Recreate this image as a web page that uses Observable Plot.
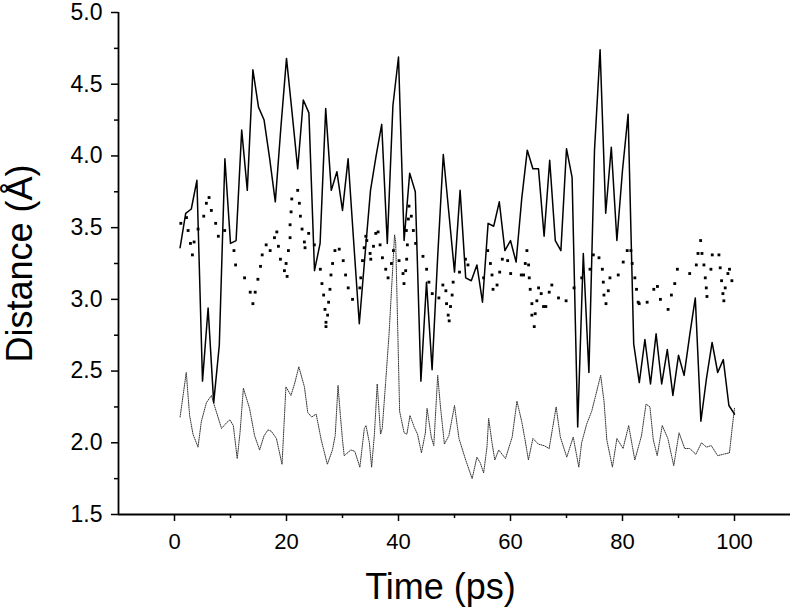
<!DOCTYPE html>
<html>
<head>
<meta charset="utf-8">
<script src="https://cdn.jsdelivr.net/npm/d3@7"></script>
<script src="https://cdn.jsdelivr.net/npm/@observablehq/plot@0.6"></script>
<style>
  html, body { margin: 0; padding: 0; background: #fff; }
</style>
</head>
<body>
<div id="chart"></div>
<script>
// ---- Data ----
const solidTime = d3.range(1, 101);
const solidDist = [
  3.36, 3.60, 3.63, 3.83, 2.43, 2.94, 2.28, 2.68, 3.98, 3.39,
  3.41, 4.18, 3.76, 4.60, 4.34, 4.25, 3.98, 3.68, 4.20, 4.68,
  4.30, 3.91, 4.39, 4.30, 3.20, 3.39, 4.33, 3.76, 3.89, 3.62,
  3.98, 3.40, 2.83, 3.30, 3.76, 4.00, 4.22, 3.39, 4.35, 4.69,
  3.41, 3.88, 3.75, 2.43, 3.12, 2.51, 3.30, 4.01, 3.60, 3.19,
  3.76, 3.15, 3.13, 3.24, 2.98, 3.53, 3.51, 3.68, 3.34, 3.41,
  3.26, 3.70, 4.04, 3.91, 3.91, 3.44, 3.97, 3.41, 3.34, 4.05,
  3.85, 2.11, 3.32, 2.49, 4.04, 4.74, 3.60, 4.06, 3.41, 3.90,
  4.29, 2.69, 2.42, 2.72, 2.41, 2.76, 2.41, 2.65, 2.33, 2.61,
  2.47, 2.75, 3.01, 2.15, 2.45, 2.70, 2.49, 2.58, 2.26, 2.20
];

const dotTime = [
  1.13, 2.14, 2.43, 2.85, 3.50, 3.20, 4.21, 5.22, 5.69, 6.17, 6.58, 7.35, 7.83, 8.96,
  10.62, 10.91, 12.51, 13.52, 14.0, 14.41, 14.89, 15.36, 15.66, 16.37, 17.08, 17.85,
  18.27, 18.56, 18.92, 19.63, 19.93, 20.11, 20.34, 20.64, 20.64, 20.82, 20.94, 22.0,
  22.3, 22.48, 22.78, 23.19, 23.31, 23.96, 24.97, 26.04, 26.33, 26.63, 26.87, 27.05,
  27.05, 27.34, 27.52, 27.76, 27.94, 28.23, 28.65, 29.42, 30.13, 30.55, 31.02, 31.79,
  33.1, 33.27, 33.57, 33.87, 34.16, 34.34, 34.93, 35.05, 35.53, 35.94, 36.36, 36.71,
  37.13, 37.72, 38.14, 38.73, 39.09, 40.1, 40.81, 40.98, 41.28, 41.46, 41.58, 41.4,
  41.76, 41.87, 42.29, 42.65, 43.06, 44.37, 45.02, 45.43, 46.03, 47.21, 47.92, 48.46,
  48.58, 48.87, 49.05, 49.29, 49.58, 49.76, 50.89, 51.96, 52.4, 55.2, 55.93, 56.41,
  56.7, 56.88, 57.6, 58.07, 58.54, 59.49, 60.03, 61.92, 62.34, 62.64, 62.93, 63.23,
  63.35, 63.52, 63.82, 63.82, 64.24, 64.41, 64.71, 65.01, 65.48, 65.9, 66.31, 66.91,
  67.38, 68.57, 69.93, 71.35, 72.72, 74.2, 74.79, 75.8, 76.4, 76.57, 76.69, 77.05,
  77.46, 77.76, 79.24, 80.13, 80.84, 81.5, 81.73, 82.21, 82.5, 82.8, 82.98, 84.4,
  85.59, 86.24, 86.77, 88.14, 88.73, 89.33, 89.8, 92.0, 93.18, 93.48, 93.95, 94.19,
  94.54, 94.78, 94.96, 95.08, 95.79, 96.03, 97.22, 97.45, 97.69, 97.93, 98.1, 98.34,
  98.82, 99.11, 99.53
];
const dotDist = [
  3.53, 3.57, 3.48, 3.39, 3.40, 3.31, 3.49, 3.58, 3.67, 3.71, 3.62, 3.53, 3.44, 3.48,
  3.34, 3.24, 3.15, 3.05, 2.97, 3.05, 3.14, 3.23, 3.31, 3.38, 3.34, 3.43,
  3.47, 3.37, 3.28, 3.20, 3.25, 3.16, 3.34, 3.43, 3.52, 3.61, 3.70, 3.76,
  3.67, 3.58, 3.49, 3.40, 3.36, 3.46, 3.38, 3.21, 3.11, 3.03, 2.93, 2.84,
  2.81, 2.89, 2.98, 3.07, 3.17, 3.25, 3.34, 3.35, 3.27, 3.17, 3.08, 3.00,
  3.08, 3.15, 3.27, 3.36, 3.44, 3.41, 3.32, 3.28, 3.37, 3.46, 3.47, 3.38,
  3.29, 3.21, 3.15, 3.25, 3.34, 3.27, 3.18, 3.11, 3.20, 3.28, 3.38, 3.48,
  3.56, 3.65, 3.58, 3.48, 3.39, 3.30, 3.21, 3.12, 3.04, 3.01, 3.10, 3.06,
  2.97, 2.89, 2.85, 2.95, 3.03, 3.12, 3.19, 3.28, 3.24, 3.15, 3.34, 3.25,
  3.17, 3.07, 3.10, 3.19, 3.28, 3.27, 3.18, 3.17, 3.17, 3.25, 3.34, 3.24,
  3.15, 3.07, 2.97, 2.89, 2.81, 2.90, 2.99, 3.08, 3.04, 2.95, 2.95, 3.05,
  3.10, 3.01, 2.99, 3.08, 3.15, 3.21, 3.31, 3.29, 3.21, 3.12, 3.03, 2.97,
  3.06, 3.15, 3.17, 3.26, 3.34, 3.34, 3.25, 3.15, 3.07, 2.98, 2.97, 2.98,
  3.07, 3.09, 3.00, 2.93, 3.03, 3.11, 3.21, 3.18, 3.24, 3.32, 3.41, 3.32,
  3.24, 3.15, 3.08, 3.02, 3.21, 3.31, 3.31, 3.22, 3.13, 3.04, 2.99, 3.08,
  3.18, 3.21, 3.13
];

const lowTime = [
  1.0, 2.1, 2.7, 3.3, 4.2, 4.8, 5.7, 6.6, 7.2, 8.4, 9.3, 9.9, 10.5, 11.2, 11.7, 12.3,
  13.4, 14.3, 15.2, 16.0, 16.7, 17.3, 18.2, 19.2, 19.9, 20.5, 20.8, 21.5, 22.2, 23.2,
  23.8, 24.5, 25.3, 26.2, 27.3, 28.2, 28.7, 29.2, 29.6, 30.0, 30.3, 31.5, 32.2, 33.1,
  33.9, 34.2, 34.8, 35.2, 35.7, 36.2, 36.8, 37.1, 37.7, 38.3, 38.8, 39.3, 39.5, 39.8,
  40.2, 41.0, 41.5, 42.05, 42.8, 43.4, 44.1, 44.8, 45.1, 45.85, 46.3, 47.0, 47.5, 48.2,
  49.0, 50.0, 50.8, 52.0, 53.15, 54.0, 54.6, 55.2, 55.8, 56.1, 56.7, 57.2, 57.9, 59.1,
  60.3, 61.15, 62.0, 62.6, 63.2, 64.0, 65.0, 66.0, 66.9, 68.15, 68.9, 70.05, 71.2, 72.2,
  72.7, 73.6, 74.5, 75.4, 76.1, 76.7, 77.2, 78.2, 79.0, 80.1, 81.1, 82.2, 83.4, 84.2,
  84.9, 85.5, 86.2, 87.1, 88.1, 89.15, 90.1, 91.1, 92.0, 93.1, 94.1, 95.0, 95.85, 97.0,
  98.0, 99.1, 99.6, 100.0
];
const lowDist = [
  2.18, 2.49, 2.19, 2.06, 1.97, 2.15, 2.28, 2.33, 2.25, 2.10, 2.14, 2.16, 2.12, 1.89, 2.07, 2.38,
  2.24, 2.05, 1.95, 2.05, 2.09, 2.08, 2.03, 1.85, 2.39, 2.35, 2.33, 2.42, 2.53, 2.39,
  2.21, 2.18, 2.20, 2.02, 1.85, 1.95, 2.05, 2.40, 2.20, 2.02, 1.91, 1.95, 1.94, 1.83,
  2.10, 2.12, 2.00, 1.83, 2.06, 2.41, 2.06, 2.10, 2.42, 2.75, 3.10, 3.45, 3.40, 2.90,
  2.22, 2.07, 2.06, 2.19, 2.11, 2.06, 1.93, 2.07, 2.24, 2.04, 1.98, 2.47, 2.25, 1.99,
  2.05, 2.26, 2.03, 1.88, 1.75, 1.90, 1.86, 1.79, 1.97, 2.17, 2.00, 1.88, 1.95, 1.89,
  2.04, 2.29, 2.15, 2.02, 1.88, 2.03, 1.99, 1.98, 1.96, 2.25, 2.04, 1.90, 2.04, 1.83,
  2.00, 2.13, 2.22, 2.36, 2.47, 2.29, 2.02, 1.83, 2.03, 1.96, 2.12, 1.88, 2.05, 2.27,
  2.25, 2.02, 1.91, 2.12, 2.03, 1.84, 2.07, 1.96, 1.96, 1.92, 2.00, 1.97, 1.98, 1.91,
  1.92, 1.93, 2.11, 2.24
];

const xMajorTicks = [0, 20, 40, 60, 80, 100];
const xMinorTicks = [10, 30, 50, 70, 90];
const yMajorTicks = [1.5, 2.0, 2.5, 3.0, 3.5, 4.0, 4.5, 5.0];
const yMinorTicks = [1.75, 2.25, 2.75, 3.25, 3.75, 4.25, 4.75];
const xTitle = "Time (ps)";
const yTitle = "Distance (Å)";

// ---- Build tables ----
const solid = solidTime.map((t, i) => ({t, v: solidDist[i]}));
const dots = dotTime.map((t, i) => ({t, v: dotDist[i]}));
const low = lowTime.map((t, i) => ({t, v: lowDist[i]}));

const font = "'Liberation Sans', Arial, Helvetica, sans-serif";

const chart = Plot.plot({
  width: 792,
  height: 612,
  marginLeft: 118,
  marginRight: 2,
  marginTop: 12,
  marginBottom: 98,
  x: {domain: [-10, 110]},
  y: {domain: [1.5, 5.0]},
  style: {fontFamily: font, background: "#fff", color: "#000"},
  marks: [
    Plot.axisX({ticks: xMajorTicks, tickSize: 7, tickPadding: 12, fontSize: 22, strokeWidth: 1.5, label: null, tickFormat: d => String(d)}),
    Plot.axisX({ticks: xMinorTicks, tickSize: 4, strokeWidth: 1.5, label: null, tickFormat: () => ""}),
    Plot.axisY({ticks: yMajorTicks, tickSize: 7, tickPadding: 9, fontSize: 23, strokeWidth: 1.5, label: null, tickFormat: d3.format(".1f")}),
    Plot.axisY({ticks: yMinorTicks, tickSize: 4, strokeWidth: 1.5, label: null, tickFormat: () => ""}),
    Plot.ruleY([1.5], {strokeWidth: 1.8}),
    Plot.ruleX([-10], {strokeWidth: 1.8}),
    Plot.line(low, {x: "t", y: "v", stroke: "#333", strokeWidth: 1, strokeDasharray: "1,1.2"}),
    Plot.line(solid, {x: "t", y: "v", stroke: "#000", strokeWidth: 1.5}),
    Plot.dot(dots, {x: "t", y: "v", r: 1.6, fill: "#000", stroke: "none", symbol: "square"}),
    Plot.text([yTitle], {frameAnchor: "left", textAnchor: "middle", lineAnchor: "middle", dx: -98, rotate: -90, fontSize: 36, fill: "#000"}),
    Plot.text([xTitle], {frameAnchor: "bottom", textAnchor: "middle", lineAnchor: "bottom", dx: -14, dy: 84, fontSize: 36, fill: "#000"})
  ]
});
document.getElementById("chart").appendChild(chart);
</script>
</body>
</html>
